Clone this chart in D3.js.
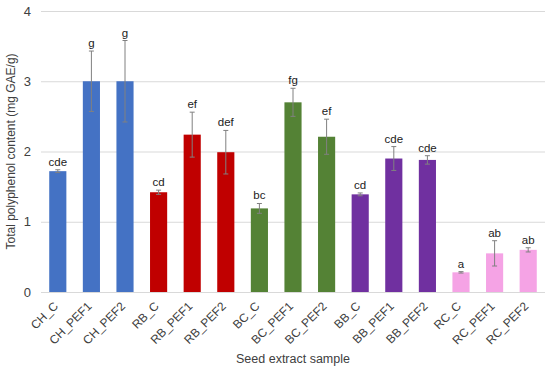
<!DOCTYPE html>
<html>
<head>
<meta charset="utf-8">
<script src="https://cdn.jsdelivr.net/npm/d3@7"></script>
<style>
  body { margin: 0; background: #fff; }
  svg { font-family: "Liberation Sans", Arial, sans-serif; }
</style>
</head>
<body>
<div id="chart"></div>
<script>
// Data
const samples = ["CH_C", "CH_PEF1", "CH_PEF2", "RB_C", "RB_PEF1", "RB_PEF2",
  "BC_C", "BC_PEF1", "BC_PEF2", "BB_C", "BB_PEF1", "BB_PEF2", "RC_C", "RC_PEF1", "RC_PEF2"];
const means = [1.72, 3.0, 3.0, 1.42, 2.24, 1.99, 1.19, 2.70, 2.21, 1.39, 1.90, 1.88, 0.28, 0.55, 0.60];
const errors = [0.02, 0.43, 0.58, 0.03, 0.32, 0.31, 0.07, 0.20, 0.25, 0.02, 0.17, 0.06, 0.01, 0.18, 0.03];
const letters = ["cde", "g", "g", "cd", "ef", "def", "bc", "fg", "ef", "cd", "cde", "cde", "a", "ab", "ab"];
const groups = ["CH", "RB", "BC", "BB", "RC"];
const groupColors = ["#4472C4", "#C00000", "#548235", "#7030A0", "#F5A3E5"];
const yTicks = [0, 1, 2, 3, 4];

const W = 550, H = 370;
const margin = { top: 11, right: 5, bottom: 78, left: 41 };
const width = W - margin.left - margin.right;
const height = H - margin.top - margin.bottom;

const svg = d3.select("#chart").append("svg")
  .attr("width", W).attr("height", H);
const g = svg.append("g")
  .attr("transform", `translate(${margin.left},${margin.top})`);

const x = d3.scaleBand().domain(samples).range([0, width]).paddingInner(0.49).paddingOuter(0.245);
const y = d3.scaleLinear().domain([0, 4]).range([height, 0]);
const color = d3.scaleOrdinal().domain(groups).range(groupColors);

// Gridlines + y axis labels
const yAxis = g.append("g")
  .call(d3.axisLeft(y).tickValues(yTicks).tickSize(-width).tickPadding(10).tickFormat(d3.format("d")));
yAxis.select(".domain").remove();
yAxis.selectAll(".tick line").attr("stroke", "#d9d9d9").attr("stroke-width", 1);
yAxis.selectAll(".tick text").attr("font-size", 13).attr("fill", "#404040")
  .attr("font-family", "Liberation Sans, Arial, sans-serif");

// Bars
const data = samples.map((s, i) => ({ s, m: means[i], e: errors[i], l: letters[i], grp: s.split("_")[0] }));
g.selectAll("rect.bar").data(data).enter().append("rect")
  .attr("class", "bar")
  .attr("x", d => x(d.s))
  .attr("y", d => y(d.m))
  .attr("width", x.bandwidth())
  .attr("height", d => y(0) - y(d.m))
  .attr("fill", d => color(d.grp));

// Error bars
const eb = g.selectAll("g.err").data(data).enter().append("g")
  .attr("class", "err")
  .attr("transform", d => `translate(${x(d.s) + x.bandwidth() / 2},0)`)
  .attr("stroke", "#808080").attr("stroke-width", 1);
eb.append("line").attr("y1", d => y(d.m + d.e)).attr("y2", d => y(d.m - d.e));
eb.append("line").attr("x1", -2.5).attr("x2", 2.5).attr("y1", d => y(d.m + d.e)).attr("y2", d => y(d.m + d.e));
eb.append("line").attr("x1", -2.5).attr("x2", 2.5).attr("y1", d => y(d.m - d.e)).attr("y2", d => y(d.m - d.e));

// Significance letters
g.selectAll("text.letter").data(data).enter().append("text")
  .attr("class", "letter")
  .attr("x", d => x(d.s) + x.bandwidth() / 2)
  .attr("y", d => y(d.m + d.e) - 4)
  .attr("text-anchor", "middle")
  .attr("font-size", 11.5)
  .attr("fill", "#222")
  .text(d => d.l);

// X axis labels, rotated
const xAxis = g.append("g")
  .attr("transform", `translate(0,${height})`)
  .call(d3.axisBottom(x).tickSize(0).tickPadding(0));
xAxis.select(".domain").remove();
xAxis.selectAll(".tick text")
  .attr("font-size", 12)
  .attr("fill", "#404040")
  .attr("font-family", "Liberation Sans, Arial, sans-serif")
  .attr("text-anchor", "end")
  .attr("dy", "0.35em")
  .attr("transform", "translate(-2,12) rotate(-45)");

// Axis titles
svg.append("text")
  .attr("transform", `translate(15,${margin.top + height / 2}) rotate(-90)`)
  .attr("text-anchor", "middle")
  .attr("font-size", 12)
  .attr("fill", "#404040")
  .text("Total polyphenol content (mg GAE/g)");

svg.append("text")
  .attr("x", margin.left + width / 2)
  .attr("y", 363)
  .attr("text-anchor", "middle")
  .attr("font-size", 12.5)
  .attr("fill", "#404040")
  .text("Seed extract sample");
</script>
</body>
</html>
